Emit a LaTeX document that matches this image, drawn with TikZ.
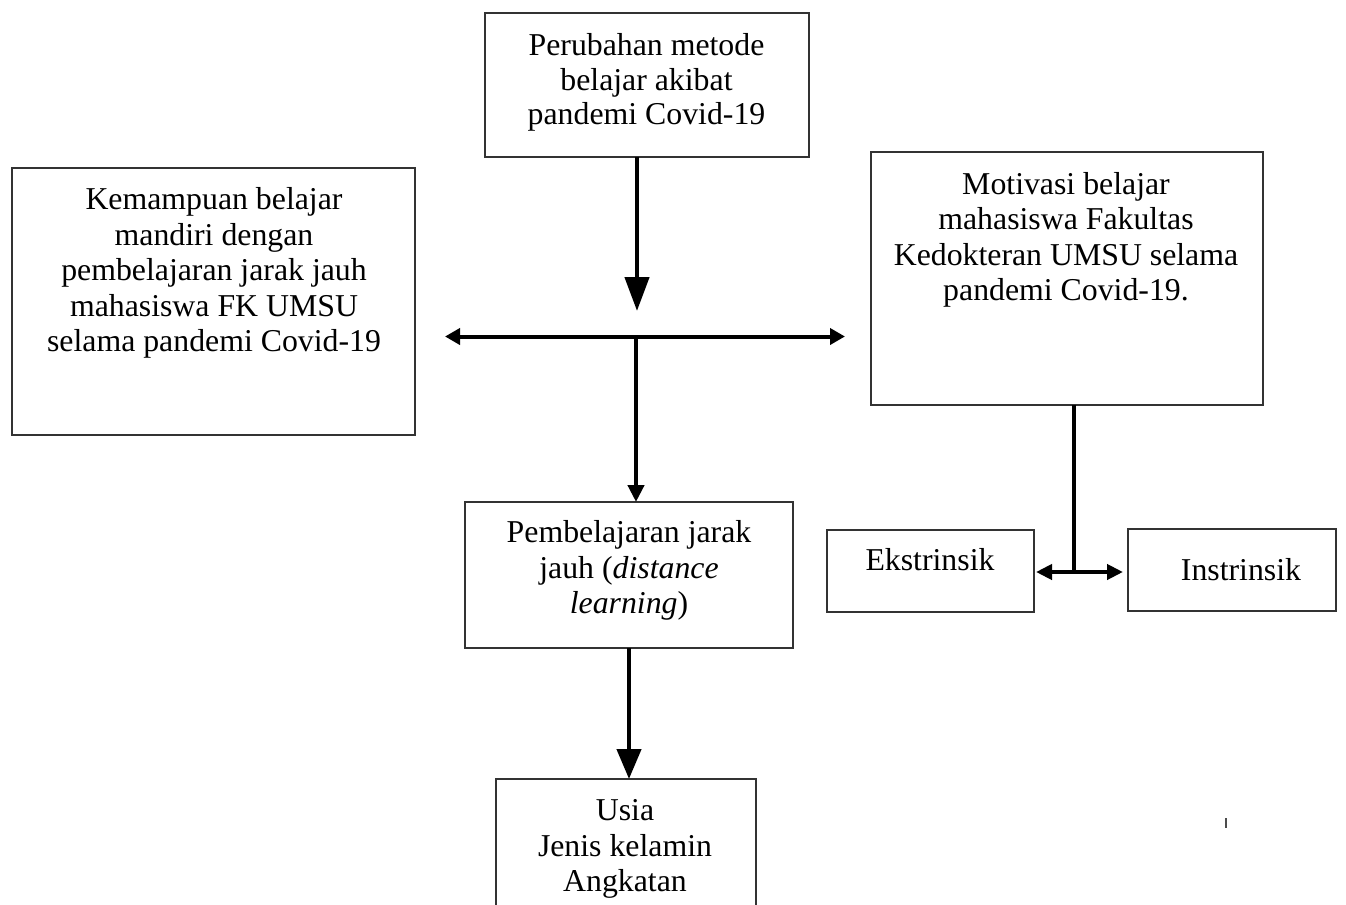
\documentclass[tikz,border=0pt]{standalone}
\usepackage{fontspec}
\setmainfont{Liberation Serif}
\usetikzlibrary{arrows.meta}
\begin{document}
\begin{tikzpicture}[x=0.5pt,y=-0.5pt,
  box/.style={draw=black!80,line width=0.75pt,inner sep=0pt,outer sep=0pt},
  txt/.style={inner sep=0pt,align=center,font=\fontsize{15.9}{17.75}\selectfont},
  thick arrow/.style={line width=2.25pt,-{Triangle[length=17pt,width=12pt]}},
  mid arrow/.style={line width=2.1pt,-{Triangle[length=8.5pt,width=8pt]}},
  low arrow/.style={line width=2.2pt,-{Triangle[length=15pt,width=12pt]}},
  dbl arrow/.style={line width=2pt,{Triangle[length=7.5pt,width=8pt]}-{Triangle[length=7.5pt,width=8pt]}},
  small dbl/.style={line width=2pt,{Triangle[length=8pt,width=7.5pt]}-{Triangle[length=8pt,width=7.5pt]}},
  plain line/.style={line width=2.1pt}]
\useasboundingbox[fill=white] (0,0) rectangle (1346,905);

% boxes
\node[box,minimum width=162pt,minimum height=72pt] (top) at (647,85) {};
\node[box,minimum width=201.5pt,minimum height=133.5pt] (left) at (213.5,301.5) {};
\node[box,minimum width=196pt,minimum height=126.5pt] (right) at (1067,278.5) {};
\node[box,minimum width=164pt,minimum height=73pt] (mid) at (629,575) {};
\node[box,minimum width=103.5pt,minimum height=41pt] (ekst) at (930.5,571) {};
\node[box,minimum width=104pt,minimum height=41pt] (instr) at (1232,570) {};
\node[inner sep=0pt,outer sep=0pt,minimum width=130pt,minimum height=63pt] (usia) at (626,842) {};
\draw[black!80,line width=0.75pt] (usia.south west) -- (usia.north west) -- (usia.north east) -- (usia.south east);

% texts
\node[txt,font=\fontsize{15.9}{17.1}\selectfont] (ttop) at (646.5,82.5) {Perubahan metode\\belajar akibat\\pandemi Covid-19};
\node[txt] (tleft) at (214,273) {Kemampuan belajar\\mandiri dengan\\pembelajaran jarak jauh\\mahasiswa FK UMSU\\selama pandemi Covid-19};
\node[txt] (tright) at (1066,240) {Motivasi belajar\\mahasiswa Fakultas\\Kedokteran UMSU selama\\pandemi Covid-19.};
\node[txt] (tmid) at (629,570.5) {Pembelajaran jarak\\jauh (\textit{distance}\\\textit{learning})};
\node[txt] (tusia) at (625,849) {Usia\\Jenis kelamin\\Angkatan};
\node[txt] (tekst) at (930,560) {Ekstrinsik};
\node[txt] (tinstr) at (1241,570) {Instrinsik};

% connectors
\coordinate (a1) at (637,311);
\coordinate (hl) at (445,336.5);
\coordinate (hr) at (845,336.5);
\coordinate (j) at (636,336.5);
\coordinate (j2) at (1074,572);
\coordinate (el) at (1036,572);
\coordinate (ir) at (1123,572);
\coordinate (b1) at (629,648);
\coordinate (b2) at (629,779);
\coordinate (m1) at (1226,818);
\coordinate (m2) at (1226,828);

\draw[thick arrow] (top.south -| a1) -- (a1);
\draw[dbl arrow] (hl) -- (hr);
\draw[mid arrow] (j) -- (j |- mid.north);
\draw[low arrow] (b1) -- (b2);
\draw[plain line] (right.south -| j2) -- (j2);
\draw[small dbl] (el) -- (ir);
\draw[black!70,line width=0.6pt] (m1) -- (m2);
\end{tikzpicture}
\end{document}
